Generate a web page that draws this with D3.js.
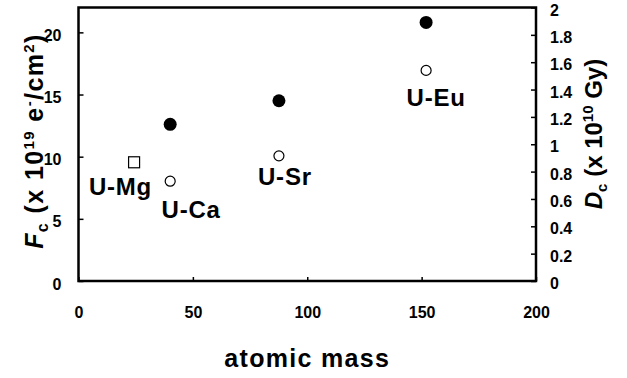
<!DOCTYPE html>
<html><head><meta charset="utf-8">
<script src="https://cdn.jsdelivr.net/npm/d3@7"></script>
<style>
body{margin:0;background:#fff;}
svg{display:block;font-family:"Liberation Sans",Arial,Helvetica,sans-serif;font-weight:bold;}
</style></head>
<body><svg id="chart" width="627" height="378"></svg>
<script>
// ---- data ----
const samples = ["U-Mg","U-Ca","U-Sr","U-Eu"];
const atomicMass = [24.3, 40.08, 87.62, 151.96];
const fcFilled = [null, 12.6, 14.5, 20.8];   // Fc (x10^19 e-/cm2), filled circles, left axis
const dcOpen = [null, 0.73, 0.915, 1.54];    // Dc (x10^10 Gy), open circles, right axis
const fcSquare = [9.55, null, null, null];   // open square (U-Mg), left axis
const xTicks = [0, 50, 100, 150, 200];
const yLeftTicks = [0, 5, 10, 15, 20];
const yRightTicks = [0, 0.2, 0.4, 0.6, 0.8, 1, 1.2, 1.4, 1.6, 1.8, 2];

// ---- layout ----
const L = 78.5, R = 536, T = 7.5, B = 281;
const svg = d3.select("#chart");
const x = d3.scaleLinear().domain([0, 200]).range([L, R]);
const yL = d3.scaleLinear().domain([0, 22]).range([B, T]);
const yR = d3.scaleLinear().domain([0, 2]).range([B, T]);

function styleAxis(g, dy) {
  g.select(".domain").remove();
  g.selectAll(".tick line").attr("stroke", "#000").attr("stroke-width", 1.5);
  g.selectAll(".tick text").attr("fill", "#000").style("font-size", "16px")
    .style("font-weight", "bold").attr("font-family", null);
  if (dy) g.selectAll(".tick text").attr("transform", `translate(0,${dy})`);
}

svg.append("g").attr("transform", `translate(${L},0)`)
  .call(d3.axisLeft(yL).tickValues(yLeftTicks).tickSize(-5).tickPadding(17).tickFormat(d3.format("d")))
  .call(g => styleAxis(g, 3));
svg.append("g").attr("transform", `translate(${R},0)`)
  .call(d3.axisRight(yR).tickValues(yRightTicks).tickSize(-5).tickPadding(14).tickFormat(d => String(+d.toFixed(1))))
  .call(g => styleAxis(g, 2.5));
svg.append("g").attr("transform", `translate(0,${B})`)
  .call(d3.axisBottom(x).tickValues(xTicks).tickSize(-4).tickPadding(26).tickFormat(d3.format("d")))
  .call(g => styleAxis(g, 0));

// frame
svg.append("rect").attr("x", L).attr("y", T).attr("width", R - L).attr("height", B - T)
  .attr("fill", "none").attr("stroke", "#000").attr("stroke-width", 2.5);

// points
const idx = d3.range(samples.length);
svg.selectAll("circle.filled").data(idx.filter(i => fcFilled[i] != null)).join("circle")
  .attr("class", "filled").attr("cx", i => x(atomicMass[i])).attr("cy", i => yL(fcFilled[i]))
  .attr("r", 6.5).attr("fill", "#000");
svg.selectAll("circle.open").data(idx.filter(i => dcOpen[i] != null)).join("circle")
  .attr("class", "open").attr("cx", i => x(atomicMass[i])).attr("cy", i => yR(dcOpen[i]))
  .attr("r", 5).attr("fill", "#fff").attr("stroke", "#000").attr("stroke-width", 1.2);
svg.selectAll("rect.sq").data(idx.filter(i => fcSquare[i] != null)).join("rect")
  .attr("class", "sq").attr("x", i => x(atomicMass[i]) - 5.5).attr("y", i => yL(fcSquare[i]) - 5.5)
  .attr("width", 11).attr("height", 11).attr("fill", "#fff").attr("stroke", "#000").attr("stroke-width", 1.2);

// sample labels, placed relative to their lower marker
const labelPlace = [
  {dx: 18, dy: 33, anchor: "end"},
  {dx: 21, dy: 37, anchor: "middle"},
  {dx: 6, dy: 29, anchor: "middle"},
  {dx: 10, dy: 36, anchor: "middle"}
];
svg.selectAll("text.lbl").data(idx).join("text").attr("class", "lbl")
  .attr("x", i => x(atomicMass[i]) + labelPlace[i].dx)
  .attr("y", i => (dcOpen[i] != null ? yR(dcOpen[i]) : yL(fcSquare[i])) + labelPlace[i].dy)
  .attr("text-anchor", i => labelPlace[i].anchor)
  .style("font-size", "24px").style("letter-spacing", "0.8px").text(i => samples[i]);

// axis titles
svg.append("text").attr("x", (L + R) / 2).attr("y", 366.5).attr("text-anchor", "middle")
  .style("font-size", "25px").style("letter-spacing", "1.3px").text("atomic mass");

const lt = svg.append("text").attr("transform", "translate(43,141) rotate(-90)")
  .attr("text-anchor", "middle").style("font-size", "25px").style("letter-spacing", "1.4px");
lt.append("tspan").style("font-style", "italic").text("F");
lt.append("tspan").attr("dy", 5).style("font-size", "16px").text("c");
lt.append("tspan").attr("dy", -5).text(" (x 10");
lt.append("tspan").attr("dy", -9).style("font-size", "15px").text("19");
lt.append("tspan").attr("dy", 9).text(" e");
lt.append("tspan").attr("dy", -9).style("font-size", "15px").text("-");
lt.append("tspan").attr("dy", 9).text("/cm");
lt.append("tspan").attr("dy", -9).style("font-size", "15px").text("2");
lt.append("tspan").attr("dy", 9).text(")");

const rt = svg.append("text").attr("transform", "translate(602,134) rotate(-90)")
  .attr("text-anchor", "middle").style("font-size", "24px");
rt.append("tspan").style("font-style", "italic").text("D");
rt.append("tspan").attr("dy", 5).style("font-size", "15px").text("c");
rt.append("tspan").attr("dy", -5).text(" (x 10");
rt.append("tspan").attr("dy", -9).style("font-size", "15px").text("10");
rt.append("tspan").attr("dy", 9).text(" Gy)");
</script></body></html>
